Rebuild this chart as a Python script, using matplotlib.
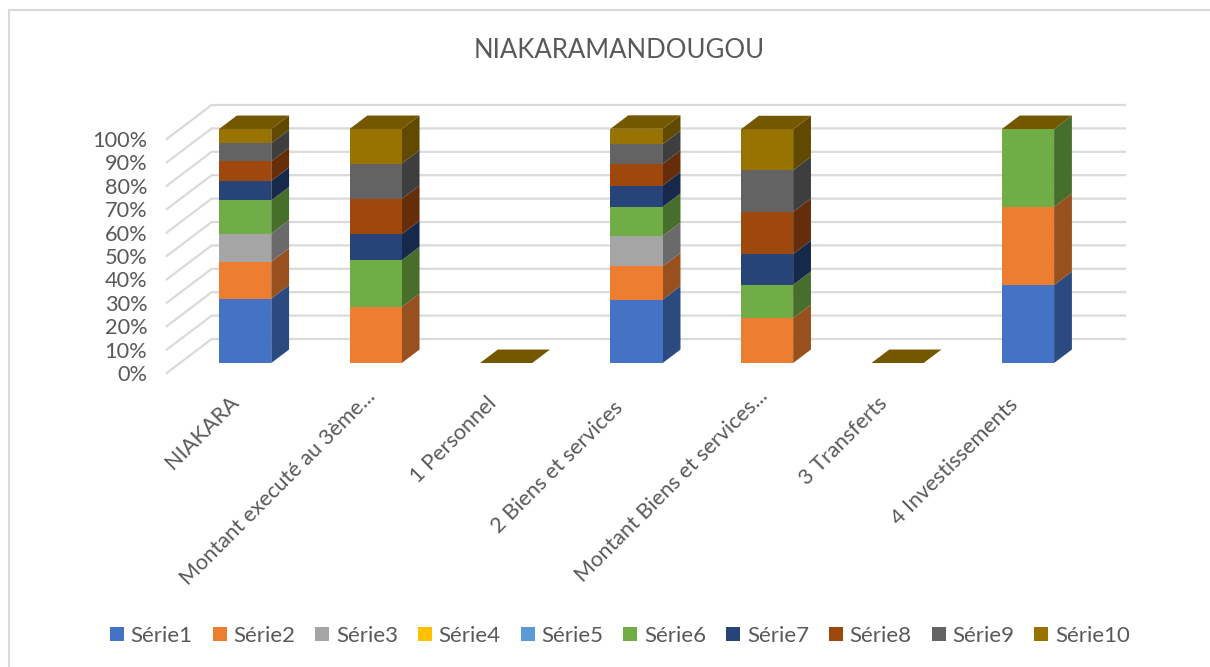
import numpy as np
import matplotlib
matplotlib.use('Agg')
import matplotlib.pyplot as plt
from matplotlib.lines import Line2D
from matplotlib.transforms import ScaledTranslation

plt.rcParams['font.family'] = ['Lato', 'DejaVu Sans']

TITLE = 'NIAKARAMANDOUGOU'
CATEGORIES = ['NIAKARA', 'Montant executé au 3ème...', '1 Personnel', '2 Biens et services',
              'Montant Biens et services...', '3 Transferts', '4 Investissements']
SERIES = ['Série1', 'Série2', 'Série3', 'Série4', 'Série5',
          'Série6', 'Série7', 'Série8', 'Série9', 'Série10']
YTICKS = [0, 10, 20, 30, 40, 50, 60, 70, 80, 90, 100]

serie1 = [27.5, 0, 0, 27.1, 0, 0, 33.3]
serie2 = [15.8, 23.9, 0, 14.2, 19.2, 0, 33.4]
serie3 = [12.0, 0, 0, 13.0, 0, 0, 0]
serie4 = [0, 0, 0, 0, 0, 0, 0]
serie5 = [0, 0, 0, 0, 0, 0, 0]
serie6 = [14.2, 20.0, 0, 12.4, 14.2, 0, 33.3]
serie7 = [8.3, 11.1, 0, 9.1, 13.2, 0, 0]
serie8 = [8.4, 15.1, 0, 9.3, 18.0, 0, 0]
serie9 = [7.7, 15.1, 0, 8.4, 17.8, 0, 0]
serie10 = [6.1, 14.8, 0, 6.6, 17.5, 0, 0]
values = [serie1, serie2, serie3, serie4, serie5, serie6, serie7, serie8, serie9, serie10]

FRONT = ['#4472C4', '#ED7D31', '#A5A5A5', '#FFC000', '#5B9BD5',
         '#70AD47', '#264478', '#9E480E', '#636363', '#997300']
SIDE = ['#2A4A80', '#98501E', '#6A6A6A', '#A67C00', '#3B6590',
        '#486E2C', '#17294B', '#652D09', '#3E3E3E', '#614900']
TOP = '#745800'
GRID = '#DADADA'
TEXT = '#595959'

W, H = 1210, 667
# full depth of the 3d floor, in data units
DX, DY = 45 / 130.5, 34 / 234 * 100
BAR_W = 0.4
T_FRONT, T_BACK = 0.294, 0.69
# where each rotated label sits relative to its tick, in pixels (excel moves them by length)
LABEL_OFFSETS = [(-29.5, -59), (-83.9, -114.5), (-38.9, -66.5), (-65.9, -94),
                 (-81.9, -113), (-40.4, -68.5), (-59.9, -88.5)]

fig = plt.figure(figsize=(W / 100, H / 100), dpi=100)
# only top and left of the chart frame are visible in the crop
fig.add_artist(Line2D([1, 9 / W, 9 / W], [1 - 10 / H, 1 - 10 / H, 0], transform=fig.transFigure,
                      color='#D9D9D9', lw=1.5, solid_joinstyle='miter'))

ax = fig.add_axes([166.7 / W, 1 - 373 / H, 913.3 / W, 234 / H])
ax.set_xlim(-0.5, 6.5)
ax.set_ylim(0, 100)
ax.patch.set_visible(False)
for s in ax.spines.values():
    s.set_visible(False)

# walls
for t in YTICKS:
    ax.plot([-0.5, -0.5 + DX, 6.5 + DX], [t, t + DY, t + DY], color=GRID, lw=1.6,
            clip_on=False, zorder=1, solid_joinstyle='miter')

# bars
xf = T_FRONT * DX
yf = T_FRONT * DY
dx = (T_BACK - T_FRONT) * DX
dy = (T_BACK - T_FRONT) * DY
x = np.arange(len(CATEGORIES))
bottom = np.zeros(len(CATEGORIES))
for vals, name, front, side in zip(values, SERIES, FRONT, SIDE):
    vals = np.array(vals, dtype=float)
    ax.bar(x + xf, vals, BAR_W, bottom=bottom + yf, color=front, label=name, clip_on=False, zorder=3)
    for xi, b, v in zip(x, bottom, vals):
        if v > 0:
            xr = xi + xf + BAR_W / 2
            ax.fill([xr, xr + dx, xr + dx, xr], [b + yf, b + yf + dy, b + v + yf + dy, b + v + yf],
                    color=side, lw=0, clip_on=False, zorder=2)
    bottom += vals

for xi, b in zip(x, bottom):
    xl = xi + xf - BAR_W / 2
    ax.fill([xl, xl + BAR_W, xl + BAR_W + dx, xl + dx], [b + yf, b + yf, b + yf + dy, b + yf + dy],
            color=TOP, lw=0, clip_on=False, zorder=3)

ax.set_yticks(YTICKS)
ax.set_yticklabels([f'{t}%' for t in YTICKS], fontsize=15.7, color=TEXT)
ax.set_xticks(x)
ax.set_xticklabels(CATEGORIES, rotation=45, ha='center', va='center', rotation_mode='anchor',
                   fontsize=15.6, color=TEXT)
ax.tick_params(axis='both', length=0)
ax.tick_params(axis='y', pad=14)
for lbl, (ox, oy) in zip(ax.get_xticklabels(), LABEL_OFFSETS):
    lbl.set_transform(ax.get_xaxis_transform() + ScaledTranslation(ox / 100, oy / 100, fig.dpi_scale_trans))

fig.text(619 / W, 1 - 51 / H, TITLE, ha='center', va='center', fontsize=18.5, color=TEXT)

handles, labels = ax.get_legend_handles_labels()
fig.legend(handles, labels, ncol=10, loc='center', bbox_to_anchor=(620 / W, 1 - 636 / H),
           frameon=False, fontsize=16, labelcolor=TEXT, handlelength=0.63, handleheight=0.63,
           handletextpad=0.3, columnspacing=0.9)

fig.savefig('out.png', dpi=100)
